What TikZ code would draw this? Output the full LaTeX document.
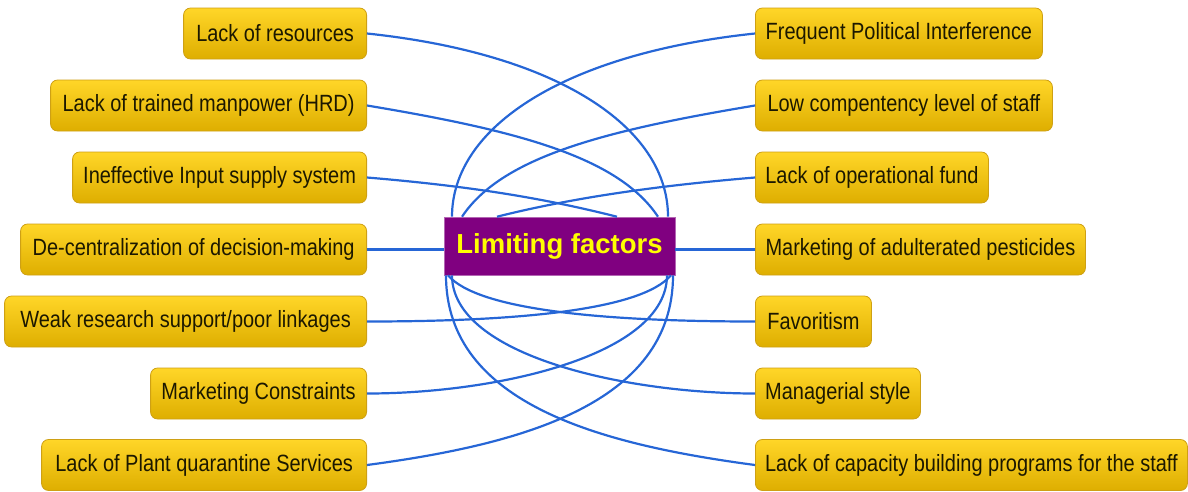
\documentclass[tikz,border=0pt]{standalone}
\usepackage{fontspec}
\setmainfont{Liberation Sans}
\newfontfamily\boxfont[FakeStretch=0.85]{Liberation Sans}
\definecolor{boxtop}{RGB}{255,214,40}
\definecolor{boxbot}{RGB}{222,174,0}
\definecolor{boxborder}{RGB}{206,160,20}
\definecolor{boxtext}{RGB}{28,24,0}
\definecolor{linkblue}{RGB}{38,102,214}
\definecolor{hubpurple}{RGB}{128,0,128}
\definecolor{hubtext}{RGB}{255,255,0}
\tikzset{
  factor/.style={draw=boxborder, line width=0.8pt, rounded corners=7pt,
    top color=boxtop, bottom color=boxbot, minimum height=51pt, inner sep=0pt,
    font=\boxfont\fontsize{23.5}{27}\selectfont, text=boxtext},
  leftbox/.style={factor, anchor=east},
  rightbox/.style={factor, anchor=west},
  link/.style={draw=linkblue, line width=2.2pt},
  hub/.style={fill=hubpurple, draw=hubpurple!60!white, line width=0.6pt,
    minimum width=231pt, minimum height=58pt, inner sep=0pt, text=hubtext,
    font=\bfseries\fontsize{27.5}{30}\selectfont}
}
\begin{document}
\begin{tikzpicture}[x=1pt,y=-1pt]
\useasboundingbox (0,0) rectangle (1188,491);
% hub
\node[hub] (c) at (559.5,246) {Limiting factors};
% left boxes
\node[leftbox, minimum width=183pt] (l1) at (367,33.5) {Lack of resources};
\node[leftbox, minimum width=316pt] (l2) at (367,105.5) {Lack of trained manpower (HRD)};
\node[leftbox, minimum width=294pt] (l3) at (367,177.5) {Ineffective Input supply system};
\node[leftbox, minimum width=346pt] (l4) at (367,249.5) {De-centralization of decision-making};
\node[leftbox, minimum width=362pt] (l5) at (367,321.5) {Weak research support/poor linkages};
\node[leftbox, minimum width=216pt] (l6) at (367,393.5) {Marketing Constraints};
\node[leftbox, minimum width=325pt] (l7) at (367,465) {Lack of Plant quarantine Services};
% right boxes
\node[rightbox, minimum width=287pt] (r1) at (755,33.5) {Frequent Political Interference};
\node[rightbox, minimum width=297pt] (r2) at (755,105.5) {Low compentency level of staff};
\node[rightbox, minimum width=233pt] (r3) at (755,177.5) {Lack of operational fund};
\node[rightbox, minimum width=330pt] (r4) at (755,249.5) {Marketing of adulterated pesticides};
\node[rightbox, minimum width=116pt] (r5) at (755,321.5) {Favoritism};
\node[rightbox, minimum width=165pt] (r6) at (755,393.5) {Managerial style};
\node[rightbox, minimum width=432pt] (r7) at (755,465) {Lack of capacity building programs for the staff};
% connectors, left side
\draw[link] (l1.east) .. controls +(190,20) and +(0,-90) .. ([xshift=108.5pt]c.north);
\draw[link] (l2.east) .. controls +(150,25) and +(-40,-60) .. ([xshift=98.5pt]c.north);
\draw[link] (l3.east) .. controls +(120,10) and +(-60,-15) .. ([xshift=57.5pt]c.north);
\draw[link] (l4.east) -- (l4.east -| c.west);
\draw[link] (l5.east) .. controls +(150,0) and +(-30,35) .. ([xshift=111.5pt]c.south);
\draw[link] (l6.east) .. controls +(130,0) and +(0,80) .. ([xshift=107.5pt]c.south);
\draw[link] (l7.east) .. controls +(150,-20) and +(0,130) .. ([xshift=113.5pt]c.south);
% connectors, right side
\draw[link] (r1.west) .. controls +(-190,20) and +(0,-90) .. ([xshift=-107.5pt]c.north);
\draw[link] (r2.west) .. controls +(-150,25) and +(40,-60) .. ([xshift=-97.5pt]c.north);
\draw[link] (r3.west) .. controls +(-120,10) and +(60,-15) .. ([xshift=-62.5pt]c.north);
\draw[link] (r4.west) -- (r4.west -| c.east);
\draw[link] (r5.west) .. controls +(-150,0) and +(30,35) .. ([xshift=-111.5pt]c.south);
\draw[link] (r6.west) .. controls +(-130,0) and +(0,80) .. ([xshift=-107.5pt]c.south);
\draw[link] (r7.west) .. controls +(-150,-20) and +(0,130) .. ([xshift=-113.5pt]c.south);
\end{tikzpicture}
\end{document}
